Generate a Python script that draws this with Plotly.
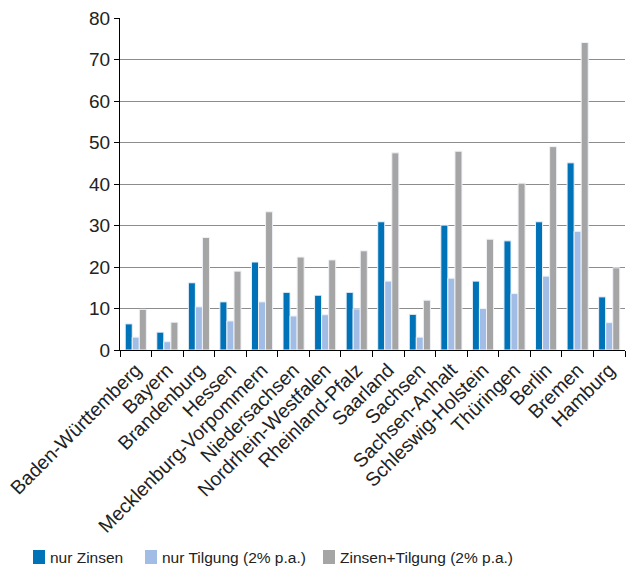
import plotly.graph_objects as go

laender = ["Baden-Württemberg", "Bayern", "Brandenburg", "Hessen",
           "Mecklenburg-Vorpommern", "Niedersachsen", "Nordrhein-Westfalen",
           "Rheinland-Pfalz", "Saarland", "Sachsen", "Sachsen-Anhalt",
           "Schleswig-Holstein", "Thüringen", "Berlin", "Bremen", "Hamburg"]

nur_zinsen = [6.3, 4.3, 16.2, 11.6, 21.2, 13.9, 13.2, 13.9, 30.9, 8.6,
              30.1, 16.6, 26.3, 30.9, 45.1, 12.8]
nur_tilgung = [3.1, 2.0, 10.4, 7.0, 11.6, 8.2, 8.5, 9.9, 16.6, 3.1,
               17.3, 10.0, 13.6, 17.8, 28.6, 6.6]
zinsen_tilgung = [9.8, 6.7, 27.1, 19.0, 33.3, 22.4, 21.7, 23.9, 47.5, 12.0,
                  47.9, 26.7, 40.2, 49.0, 74.1, 19.8]

serien_namen = ["nur Zinsen", "nur Tilgung (2% p.a.)", "Zinsen+Tilgung (2% p.a.)"]
serien_werte = [nur_zinsen, nur_tilgung, zinsen_tilgung]
serien_farben = ["#0072B7", "#A2BDE5", "#A5A5A5"]

W, H = 635, 568
M_L, M_R, M_T, M_B = 120, 10, 18, 218
plot_w, plot_h = W - M_L - M_R, H - M_T - M_B


def px_to_paper(px, py):
    return (px - M_L) / plot_w, (H - M_B - py) / plot_h


fig = go.Figure()
for name, vals, color in zip(serien_namen, serien_werte, serien_farben):
    fig.add_trace(go.Bar(
        x=laender, y=vals, name=name, showlegend=False,
        marker=dict(color=color, line=dict(color="#EEF2F8", width=1)),
    ))

# legend row below the chart: colour square followed by the series name
legend_x = [33, 145, 323]
legend_cy = 557
for name, color, lx in zip(serien_namen, serien_farben, legend_x):
    x0, y0 = px_to_paper(lx, legend_cy + 7)
    x1, y1 = px_to_paper(lx + 12, legend_cy - 7)
    fig.add_shape(type="rect", xref="paper", yref="paper",
                  x0=x0, x1=x1, y0=y0, y1=y1,
                  fillcolor=color, line=dict(width=0))
    tx, ty = px_to_paper(lx + 15, legend_cy)
    fig.add_annotation(text=name, xref="paper", yref="paper", x=tx, y=ty,
                       xanchor="left", yanchor="middle", showarrow=False,
                       font=dict(size=15.5))

font = "Liberation Sans, Arial, sans-serif"
fig.update_layout(
    width=W, height=H,
    margin=dict(l=M_L, r=M_R, t=M_T, b=M_B, autoexpand=False),
    paper_bgcolor="white", plot_bgcolor="white",
    barmode="group", bargap=0.33, bargroupgap=0,
    font=dict(family=font, color="#222222", size=16),
    showlegend=False,
    xaxis=dict(
        tickangle=-45, tickson="boundaries", ticks="outside", ticklen=6,
        tickcolor="black", showline=True, linecolor="black", linewidth=1,
        showgrid=False, tickfont=dict(size=19.5), automargin=False,
    ),
    yaxis=dict(
        range=[0, 80], dtick=10, ticks="outside", ticklen=5, tickcolor="black",
        showline=True, linecolor="black", linewidth=1,
        showgrid=True, gridcolor="#8C8C8C", gridwidth=1, zeroline=False,
        tickfont=dict(size=19), automargin=False,
    ),
)

fig.write_html("out.html")
